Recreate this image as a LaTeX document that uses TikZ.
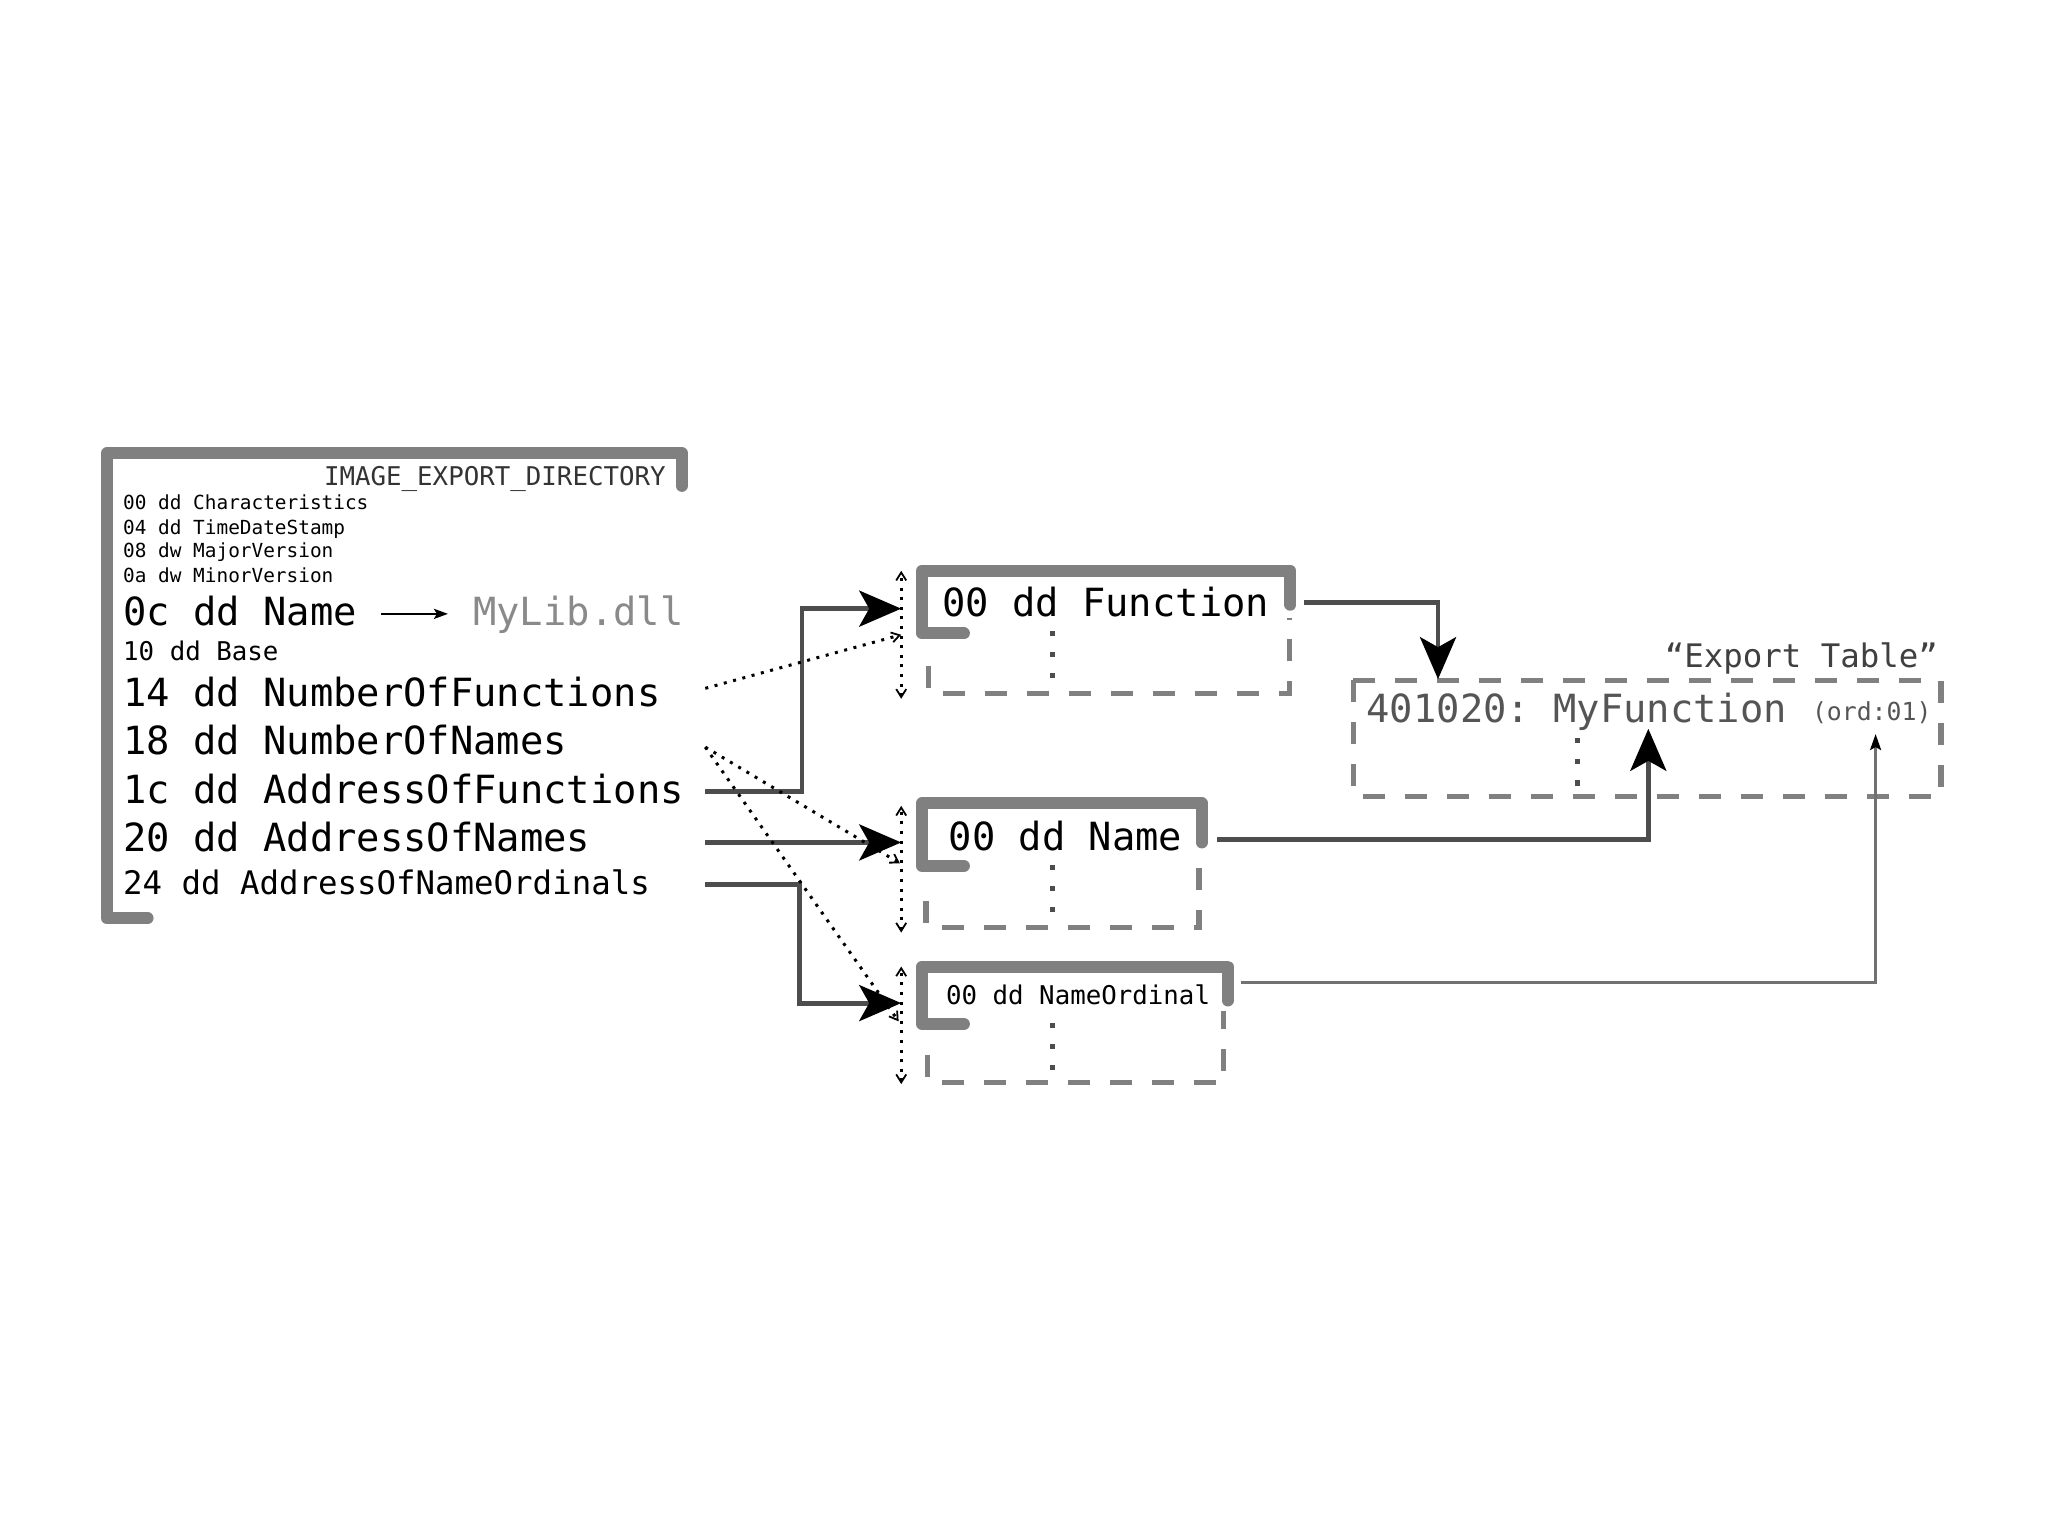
\documentclass[tikz,border=0pt]{standalone}
\usepackage{fontspec}
\setmonofont{DejaVu Sans Mono}
\usetikzlibrary{arrows.meta}
\definecolor{boxgray}{HTML}{808080}
\definecolor{linegray}{HTML}{4D4D4D}
\definecolor{txtgray}{HTML}{555555}
\definecolor{lightgray}{HTML}{8A8A8A}
\begin{document}
\begin{tikzpicture}[x=0.6531pt,y=-0.6531pt,
  thickbox/.style={draw=boxgray,line width=6pt,line cap=round,line join=round},
  dashbox/.style={draw=boxgray,line width=2.6pt,dash pattern=on 11pt off 10pt},
  middots/.style={draw=linegray,line width=2.6pt,dash pattern=on 2.6pt off 8pt},
  conn/.style={draw=linegray,line width=2.4pt,-{Stealth[length=21pt,width=18pt,inset=5pt,color=black]}},
  thinconn/.style={draw=linegray!80,line width=1.3pt,-{Stealth[length=8pt,width=5.5pt,inset=1.5pt,color=black]}},
  dotarrow/.style={draw=black,line width=1.5pt,dash pattern=on 1.5pt off 3.3pt,-{Straight Barb[length=4pt,width=5pt,line width=0.9pt]}},
  dotdouble/.style={draw=black,line width=1.5pt,dash pattern=on 1.5pt off 3.3pt,{Straight Barb[length=4pt,width=5pt,line width=0.9pt]}-{Straight Barb[length=4pt,width=5pt,line width=0.9pt]}},
  txt/.style={inner sep=0pt,anchor=base west},
  big/.style={txt,font=\ttfamily\fontsize{19.4}{22}\selectfont},
  med/.style={txt,font=\ttfamily\fontsize{12.9}{15}\selectfont},
  small/.style={txt,font=\ttfamily\fontsize{9.7}{11}\selectfont},
  mids/.style={txt,font=\ttfamily\fontsize{16.2}{18}\selectfont},
  ords/.style={txt,font=\ttfamily\fontsize{12.4}{14}\selectfont}
]
\useasboundingbox[fill=white] (0,0) rectangle (1568,1175);

% ---------- IMAGE_EXPORT_DIRECTORY box ----------
\draw[thickbox] (113,703) -- (82,703) -- (82,347) -- (522,347) -- (522,372);
\node[med,anchor=base east,text=black!80] (ied) at (510,372) {IMAGE\_EXPORT\_DIRECTORY};
\node[small] (r00) at (94,390) {00 dd Characteristics};
\node[small] (r04) at (94,409) {04 dd TimeDateStamp};
\node[small] (r08) at (94,427) {08 dw MajorVersion};
\node[small] (r0a) at (94,446) {0a dw MinorVersion};
\node[big] (r0c) at (94,479) {0c dd Name};
\node[big,text=lightgray] (mylib) at (362,479) {MyLib.dll};
\node[med] (r10) at (94,506) {10 dd Base};
\node[big] (r14) at (94,541) {14 dd NumberOfFunctions};
\node[big] (r18) at (94,578) {18 dd NumberOfNames};
\node[big] (r1c) at (94,615) {1c dd AddressOfFunctions};
\node[big] (r20) at (94,652) {20 dd AddressOfNames};
\node[mids] (r24) at (94,685) {24 dd AddressOfNameOrdinals};

\coordinate (nameA) at (292,470);
\coordinate (nameB) at (343,470);
\draw[black,line width=1.2pt,-{Stealth[length=7pt,width=5pt,inset=1.5pt]}] (nameA) -- (nameB);

% ---------- Function box ----------
\draw[thickbox] (738,485) -- (706,485) -- (706,437) -- (988,437) -- (988,463);
\draw[dashbox] (711,510) -- (711,531) -- (987,531) -- (987,473);
\draw[middots] (806,483) -- (806,522);
\node[big] (fn) at (721,472) {00 dd Function};

% ---------- Name box ----------
\draw[thickbox] (738,663) -- (706,663) -- (706,615) -- (920,615) -- (920,645);
\draw[dashbox] (709,690) -- (709,710) -- (918,710) -- (918,653);
\draw[middots] (806,662) -- (806,700);
\node[big] (nm) at (726,651) {00 dd Name};

% ---------- NameOrdinal box ----------
\draw[thickbox] (738,784) -- (706,784) -- (706,740) -- (940,740) -- (940,766);
\draw[dashbox] (710,808) -- (710,829) -- (937,829) -- (937,774);
\draw[middots] (806,783) -- (806,820);
\node[med] (no) at (724,769) {00 dd NameOrdinal};

% ---------- Export table ----------
\draw[dashbox] (1036,521) rectangle (1486,610);
\draw[middots] (1208,565) -- (1208,602);
\node[big,text=txtgray] (mf) at (1046,553) {401020: MyFunction};
\node[ords,text=txtgray] (ord) at (1387,552) {(ord:01)};
\node[mids,anchor=base east,text=black!75] (et) at (1484,511) {“Export Table”};

% ---------- dotted double arrows ----------
\coordinate (d1a) at (690,437); \coordinate (d1b) at (690,535);
\coordinate (d2a) at (690,617); \coordinate (d2b) at (690,714);
\coordinate (d3a) at (690,740); \coordinate (d3b) at (690,830);
\draw[dotdouble] (d1b) -- (d1a);
\draw[dotdouble] (d2b) -- (d2a);
\draw[dotdouble] (d3b) -- (d3a);

% ---------- connectors ----------
\coordinate (s1c) at (540,606);
\coordinate (t1c) at (690,466);
\draw[conn] (s1c) -- (614,606) -- (614,466) -- (t1c);
\coordinate (s20) at (540,645);
\coordinate (t20) at (690,645);
\draw[conn] (s20) -- (t20);
\coordinate (s24) at (540,677);
\coordinate (t24) at (690,768);
\draw[conn] (s24) -- (612,677) -- (612,768) -- (t24);

\coordinate (s14) at (540,527);
\coordinate (t14) at (690,486);
\draw[dotarrow] (s14) -- (t14);
\coordinate (s18) at (540,572);
\coordinate (t18a) at (689,661);
\coordinate (t18b) at (688,782);
\draw[dotarrow] (s18) -- (t18a);
\draw[dotarrow] (s18) -- (t18b);

\coordinate (sf) at (998,461);
\coordinate (tf) at (1101,520);
\draw[conn] (sf) -- (1101,461) -- (tf);
\coordinate (sn) at (932,643);
\coordinate (tn) at (1262,558);
\draw[conn] (sn) -- (1262,643) -- (tn);
\coordinate (so) at (950,752);
\coordinate (to) at (1436,562);
\draw[thinconn] (so) -- (1436,752) -- (to);
\end{tikzpicture}
\end{document}
